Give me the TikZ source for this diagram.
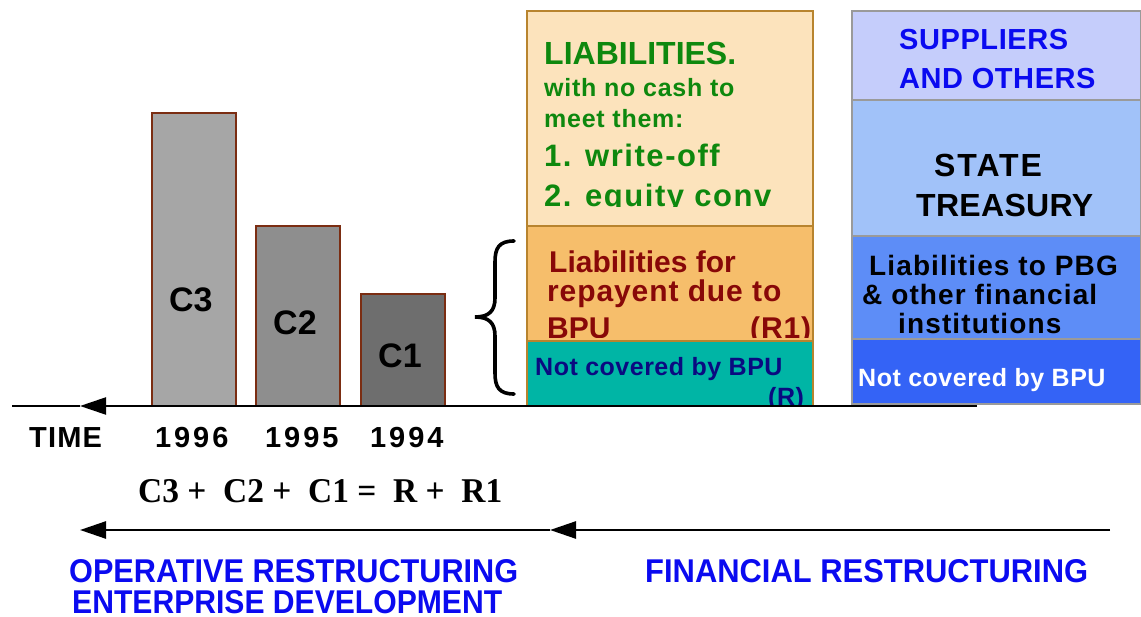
\documentclass[tikz,border=0pt]{standalone}
\usepackage{fontspec}
\usepackage{graphicx}
\setmainfont{Liberation Sans}
\newfontfamily\eqfont{Liberation Serif}
\usetikzlibrary{arrows.meta}

\definecolor{barline}{HTML}{7B2D12}
\definecolor{barA}{HTML}{A6A6A6}
\definecolor{barB}{HTML}{8E8E8E}
\definecolor{barC}{HTML}{6E6E6E}
\definecolor{peach}{HTML}{FCE3BC}
\definecolor{apricot}{HTML}{F6BE6B}
\definecolor{teal}{HTML}{00B5A5}
\definecolor{boxline}{HTML}{B8842E}
\definecolor{blueA}{HTML}{C5CDFB}
\definecolor{blueB}{HTML}{A1C2F9}
\definecolor{blueC}{HTML}{5D8DF7}
\definecolor{blueD}{HTML}{3463F6}
\definecolor{greyline}{HTML}{9A9A9A}
\definecolor{greentxt}{HTML}{0E880E}
\definecolor{redtxt}{HTML}{880808}
\definecolor{navytxt}{HTML}{0A0A80}
\definecolor{bluetxt}{HTML}{0A0AF0}

\newcommand{\fsz}[2]{\fontsize{#1}{#1}\selectfont\addfontfeature{LetterSpace=#2}}

\tikzset{
  box/.style={draw, line width=1.3pt, anchor=north west, inner sep=0pt, outer sep=0pt},
  barbox/.style={box, draw=barline, line width=1.8pt, minimum width=84pt},
  midbox/.style={box, draw=boxline, minimum width=286pt},
  rightbox/.style={box, draw=greyline, minimum width=289pt},
  txt/.style={anchor=base west, inner sep=0pt, font=\bfseries},
  tip/.style={-{Triangle[length=26pt,width=17pt]}},
}

\begin{document}
\begin{tikzpicture}[x=1pt,y=-1pt]
\useasboundingbox (0,0) rectangle (1141,617);

% cost bars
\node[barbox, fill=barA, minimum height=293pt] (c3) at (152,113) {};
\node[barbox, fill=barB, minimum height=180pt] (c2) at (256,226) {};
\node[barbox, fill=barC, minimum height=112pt] (c1) at (361,294) {};
\node[txt, font=\bfseries\fsz{34}{0}] (c3t) at (169,312) {C3};
\node[txt, font=\bfseries\fsz{34}{0}] (c2t) at (273,335) {C2};
\node[txt, font=\bfseries\fsz{34}{0}] (c1t) at (378,368) {C1};

% liabilities column
\node[midbox, fill=peach, minimum height=215pt] (mtop) at (527,11) {};
\node[midbox, fill=apricot, minimum height=115pt] (mmid) at (527,226) {};
\node[midbox, fill=teal, minimum height=65pt] (mbot) at (527,341) {};

\begin{scope}[every node/.style={txt, text=greentxt}]
\node[font=\bfseries\fsz{32}{0}] (l1) at (544,65) {LIABILITIES.};
\node[font=\bfseries\fsz{25}{3}] (l2) at (544,97) {with no cash to};
\node[font=\bfseries\fsz{25}{3}] (l3) at (544,128) {meet them:};
\node[font=\bfseries\fsz{31}{5}] (l4) at (544,167) {1. write-off};
\begin{scope}
  \clip (527,11) rectangle (813,207);
  \node[font=\bfseries\fsz{31}{5}] (l5) at (544,207) {2. equity conv};
\end{scope}
\end{scope}

\begin{scope}[every node/.style={txt, text=redtxt}]
\node[font=\bfseries\fsz{30}{0}] (r1a) at (549,273) {Liabilities for};
\node[font=\bfseries\fsz{30}{3}] (r1b) at (547,302) {repayent due to};
\begin{scope}
  \clip (527,226) rectangle (813,338);
  \node[font=\bfseries\fsz{30}{0}] (r1c) at (547,339) {BPU};
  \node[font=\bfseries\fsz{30}{3}] (r1d) at (750,339) {(R1)};
\end{scope}
\end{scope}

\node[txt, text=navytxt, font=\bfseries\fsz{25}{2}] (nc1) at (535,376) {Not covered by BPU};
\begin{scope}
  \clip (527,341) rectangle (813,406);
  \node[txt, text=navytxt, font=\bfseries\fsz{25}{2}] (rr) at (768,406) {(R)};
\end{scope}

% creditor column
\node[rightbox, fill=blueA, minimum height=89pt] (s1) at (852,11) {};
\node[rightbox, fill=blueB, minimum height=136pt] (s2) at (852,100) {};
\node[rightbox, fill=blueC, minimum height=103pt] (s3) at (852,236) {};
\node[rightbox, fill=blueD, minimum height=65pt] (s4) at (852,339) {};

\node[txt, text=bluetxt, font=\bfseries\fsz{29}{2}] (sp1) at (899,50) {SUPPLIERS};
\node[txt, text=bluetxt, font=\bfseries\fsz{29}{2}] (sp2) at (899,89) {AND OTHERS};
\node[txt, font=\bfseries\fsz{32}{6}] (st1) at (934,177) {STATE};
\node[txt, font=\bfseries\fsz{32}{1}] (st2) at (916,217) {TREASURY};
\node[txt, font=\bfseries\fsz{28}{4}] (pb1) at (869,276) {Liabilities to PBG};
\node[txt, font=\bfseries\fsz{28}{4}] (pb2) at (862,305) {\& other financial};
\node[txt, font=\bfseries\fsz{28}{4}] (pb3) at (898,334) {institutions};
\node[txt, text=white, font=\bfseries\fsz{25}{2}] (nc2) at (858,387) {Not covered by BPU};

% time axis
\coordinate (axR) at (977,406);
\coordinate (axT) at (80,406);
\coordinate (axL) at (12,406);
\draw[tip, line width=2.2pt] (axR) -- (axT);
\draw[line width=2.2pt] (axT) -- (axL);

\node[txt, font=\bfseries\fsz{29}{4}] (time) at (29,448) {TIME};
\begin{scope}[every node/.style={txt, font=\bfseries\fsz{29}{10}}]
\node (y96) at (155,448) {1996};
\node (y95) at (265,448) {1995};
\node (y94) at (370,448) {1994};
\end{scope}

% brace
\draw[line width=3.6pt, line cap=round]
  (514,241) .. controls (499,241) and (495,248) .. (495,262)
  -- (495,298) .. controls (495,311) and (489,317) .. (475,317)
  .. controls (489,317) and (495,323) .. (495,336)
  -- (495,373) .. controls (495,387) and (499,394) .. (514,394);

% balance equation
\node[txt] (eq) at (138,503) {\resizebox{364pt}{23pt}{\eqfont\bfseries C3 +\ \ C2 +\ \ C1 =\ \ R +\ \ R1}};

% restructuring phases
\coordinate (phR) at (1110,530);
\coordinate (phM) at (550,530);
\coordinate (phL) at (80,530);
\draw[tip, line width=2.6pt] (phR) -- (phM);
\draw[tip, line width=2.6pt] (phM) -- (phL);

\node[txt, text=bluetxt] (op1) at (69,582) {\resizebox{449pt}{23pt}{\bfseries OPERATIVE RESTRUCTURING}};
\node[txt, text=bluetxt] (op2) at (72,613) {\resizebox{430pt}{23pt}{\bfseries ENTERPRISE DEVELOPMENT}};
\node[txt, text=bluetxt] (fin) at (645,582) {\resizebox{443pt}{23pt}{\bfseries FINANCIAL RESTRUCTURING}};
\end{tikzpicture}
\end{document}
